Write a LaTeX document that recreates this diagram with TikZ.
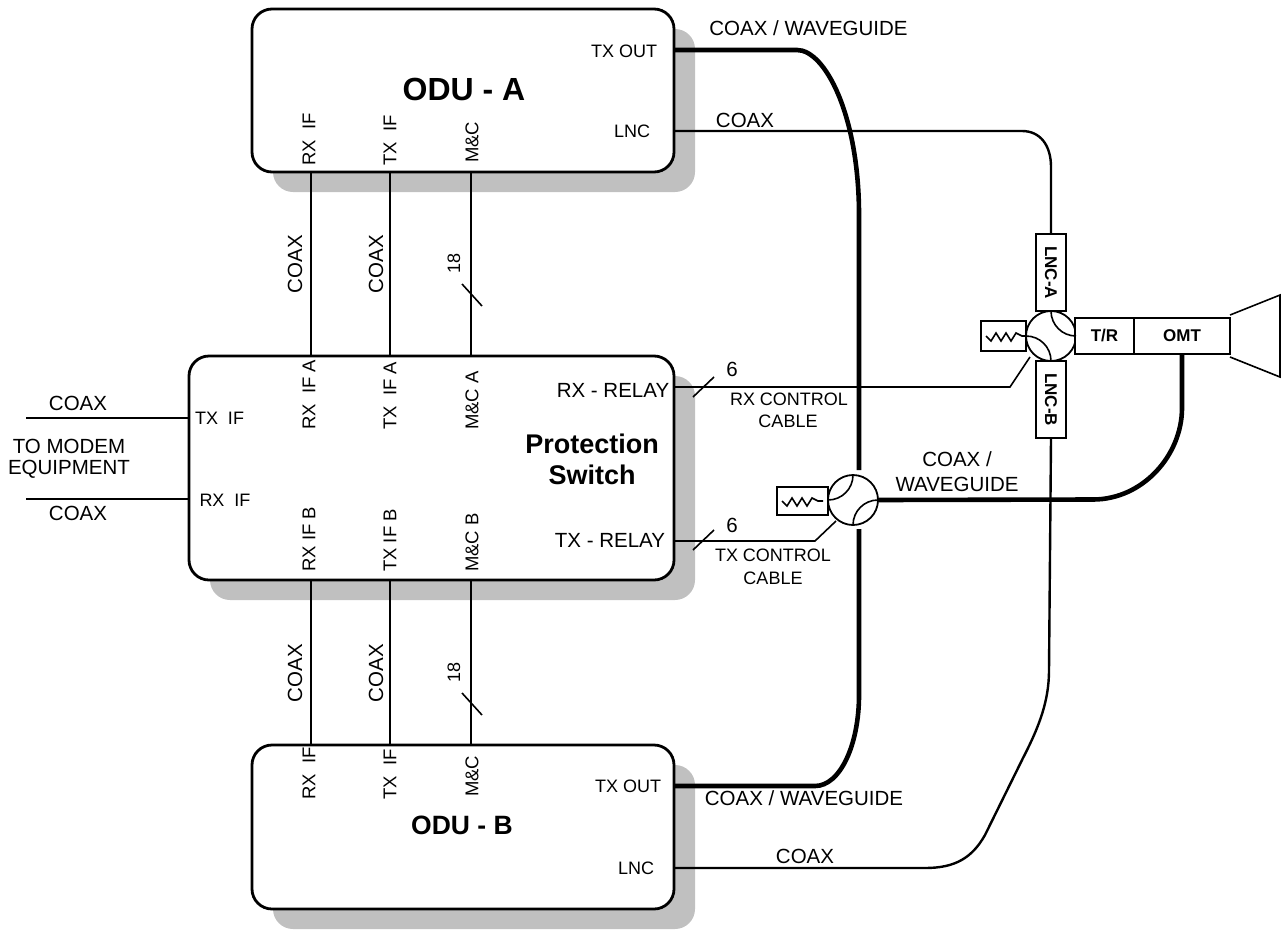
\documentclass[tikz,border=0pt]{standalone}
\usepackage{fontspec}
\setmainfont{Liberation Sans}
\usetikzlibrary{shadows}
\definecolor{shadowgray}{RGB}{192,192,192}
\newcommand{\fs}[1]{\fontsize{#1}{#1}\selectfont}
\newcommand{\loadzig}[1]{\draw[wire] ([xshift=5pt]#1.west) -- ++(5,5) -- ++(5,-8) -- ++(5,8) -- ++(5,-8) -- ++(5,8) -- ++(5,-8) -- ++(6,3) -- ++(5,0);}
\tikzset{
  unitbox/.style={draw, line width=2.8pt, fill=white, rounded corners=20pt, inner sep=0pt, outer sep=0pt,
    drop shadow={shadow xshift=21pt, shadow yshift=-20pt, fill=shadowgray, opacity=1}},
  partbox/.style={draw, line width=1.8pt, fill=white, inner sep=0pt, outer sep=0pt},
  wire/.style={line width=1.6pt},
  coaxline/.style={line width=2.4pt},
  guideline/.style={line width=4.6pt},
  lbl/.style={inner sep=0pt, font=\fs{20.5}},
  port/.style={inner sep=0pt, font=\fs{18}},
  portv/.style={inner sep=0pt, font=\fs{18.5}, rotate=90, anchor=west},
  coaxv/.style={inner sep=0pt, font=\fs{20.5}, rotate=90},
  partlbl/.style={partbox, font=\bfseries\fs{17}}
}
\begin{document}
\begin{tikzpicture}[x=1pt, y=-1pt]
\useasboundingbox (0,0) rectangle (1281,929);

% Units
\node[unitbox, minimum width=422pt, minimum height=163pt] (odua) at (463,90.5) {};
\node[unitbox, minimum width=485pt, minimum height=224pt] (switch) at (431.5,468) {};
\node[unitbox, minimum width=422pt, minimum height=164pt] (odub) at (463,827) {};

% Port columns
\coordinate (colrx) at (311,0);
\coordinate (coltx) at (390,0);
\coordinate (colmc) at (471,0);

% Cables between units
\foreach \col in {colrx,coltx,colmc} {
  \draw[coaxline] (\col |- odua.south) -- (\col |- switch.north);
  \draw[coaxline] (\col |- switch.south) -- (\col |- odub.north);
}
\node[coaxv] (coaxa1) at (295,264) {COAX};
\node[coaxv] (coaxa2) at (376,264) {COAX};
\node[coaxv] (coaxb1) at (295,673) {COAX};
\node[coaxv] (coaxb2) at (376,673) {COAX};
\draw[wire] (462,284) -- (482,306);
\draw[wire] (462,693) -- (482,715);
\node[port, rotate=90] (counta) at (454,263) {18};
\node[port, rotate=90] (countb) at (454,672) {18};

% ODU-A labels
\node[inner sep=0pt, font=\bfseries\fs{32}] (titlea) at (464,89) {ODU - A};
\node[port] (txouta) at (624,51) {TX OUT};
\node[port] (lnca) at (632,131) {LNC};
\node[portv] (rxa) at (309,166) {RX\ \ IF};
\node[portv] (txa) at (390,166) {TX\ \ IF};
\node[portv] (mca) at (472,163) {M\&C};

% Switch labels
\node[inner sep=0pt, font=\bfseries\fs{27}] (titlep1) at (592,444) {Protection};
\node[inner sep=0pt, font=\bfseries\fs{27}] (titlep2) at (592,475) {Switch};
\node[portv] (swrxa) at (309,430) {RX\ \ IF A};
\node[portv] (swtxa) at (390,430) {TX\ \ IF A};
\node[portv] (swmca) at (472,430) {M\&C A};
\node[portv] (swrxb) at (309,572) {RX IF B};
\node[portv] (swtxb) at (390,572) {TX IF B};
\node[portv] (swmcb) at (472,572) {M\&C B};
\node[lbl] (rxrelay) at (613,390) {RX - RELAY};
\node[lbl] (txrelay) at (610,540) {TX - RELAY};
\node[port] (swtxif) at (219.5,418) {TX\ \ IF};
\node[port] (swrxif) at (225,500) {RX\ \ IF};

% ODU-B labels
\node[inner sep=0pt, font=\bfseries\fs{26.5}] (titleb) at (462,825) {ODU - B};
\node[port] (txoutb) at (628,786) {TX OUT};
\node[port] (lncb) at (636,868) {LNC};
\node[portv] (rxb) at (309,800) {RX\ \ IF};
\node[portv] (txb) at (390,800) {TX\ \ IF};
\node[portv] (mcb) at (472,797) {M\&C};

% Modem side
\coordinate (modemtx) at (26,418);
\coordinate (modemrx) at (26,499);
\draw[coaxline] (modemtx) -- (modemtx -| switch.west);
\draw[coaxline] (modemrx) -- (modemrx -| switch.west);
\node[lbl] (coaxm1) at (78,403) {COAX};
\node[lbl] (modem1) at (69,446) {TO MODEM};
\node[lbl] (modem2) at (69,469) {EQUIPMENT};
\node[lbl] (coaxm2) at (78,513) {COAX};

% Antenna feed
\node[partbox, circle, minimum size=50pt] (rxsw) at (1051,336) {};
\node[partbox, minimum width=45pt, minimum height=30pt, anchor=east] (rxload) at (rxsw.west) {};
\node[partlbl, minimum width=30pt, minimum height=77pt, anchor=south] (lncboxa) at (rxsw.north) {\rotatebox{-90}{LNC-A}};
\node[partlbl, minimum width=30pt, minimum height=77pt, anchor=north] (lncboxb) at (rxsw.south) {\rotatebox{-90}{LNC-B}};
\node[partlbl, minimum width=59pt, minimum height=36pt, anchor=west] (tr) at (1075,336) {T/R};
\node[partlbl, minimum width=96pt, minimum height=36pt, anchor=west] (omt) at (tr.east) {OMT};
\draw[wire] (1230,315) -- (1280,295) -- (1280,377) -- (1230,357);
\draw[wire] (rxsw.north) to[out=-90, in=180] (rxsw.east);
\draw[wire] (rxsw.west) to[out=0, in=90] (rxsw.south);
\loadzig{rxload}

% Transmit switch
\node[partbox, circle, minimum size=50pt] (txsw) at (853,500) {};
\node[partbox, minimum width=51pt, minimum height=28pt, anchor=east] (txload) at (828,501) {};
\draw[wire] (txsw.north) to[out=-90, in=0] (txsw.west);
\draw[wire] (txsw.east) to[out=180, in=90] (txsw.south);
\loadzig{txload}

% Waveguide runs
\coordinate (guidetop) at (859,470);
\coordinate (guidebot) at (859,529);
\coordinate (omtfeed) at (1182,408);
\draw[guideline] (odua.east |- 0,50) -- (797,50) .. controls (825,50) and (859,115) .. (859,215) -- (guidetop);
\draw[guideline] (guidebot) -- (859,695) .. controls (859,745) and (840,786) .. (815,786) -- (odub.east |- 0,786);
\draw[guideline] (txsw.east) -- (1093,499.5) .. controls (1143,499.5) and (1182,455) .. (omtfeed) -- (omtfeed |- omt.south);
\node[lbl] (guidea) at (808.5,28) {COAX / WAVEGUIDE};
\node[lbl] (guideb) at (804,798) {COAX / WAVEGUIDE};
\node[lbl] (guidec1) at (957,459) {COAX /};
\node[lbl] (guidec2) at (957,484) {WAVEGUIDE};

% LNC coax runs
\draw[coaxline] (odua.east |- 0,131) -- (1022,131) .. controls (1040,131) and (1051,145) .. (1051,167) -- (lncboxa.north);
\draw[coaxline] (odub.east |- 0,868) -- (925,868) .. controls (955,868) and (972,858) .. (985,835) -- (1023,758) .. controls (1040,725) and (1049,700) .. (1049,670) -- (lncboxb.south);
\node[lbl] (coaxa3) at (745,120) {COAX};
\node[lbl] (coaxb3) at (805,856) {COAX};

% Control cables
\coordinate (rxctl) at (1030,357);
\coordinate (txctl) at (836,521);
\draw[wire] (switch.east |- 0,387) -- (1010,387) -- (rxctl);
\draw[wire] (switch.east |- 0,541) -- (815,541) -- (txctl);
\draw[wire] (693,397) -- (714,377);
\draw[wire] (693,550) -- (714,530);
\node[lbl] (countrx) at (732,369) {6};
\node[lbl] (counttx) at (732,525) {6};
\node[port] (rxc1) at (789,399) {RX CONTROL};
\node[port] (rxc2) at (788,421) {CABLE};
\node[port] (txc1) at (773,555) {TX CONTROL};
\node[port] (txc2) at (773,578) {CABLE};

\end{tikzpicture}
\end{document}
